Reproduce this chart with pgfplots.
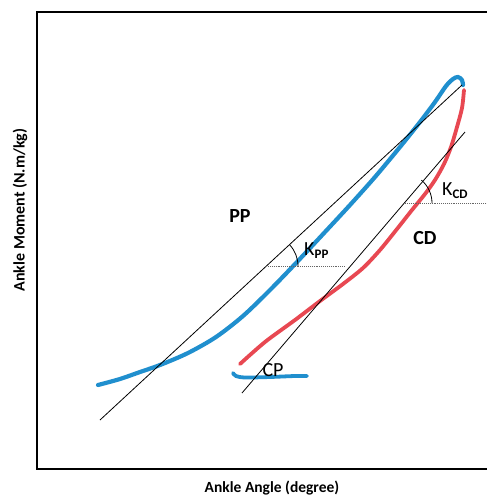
\documentclass[border=0pt]{standalone}
\usepackage{pgfplots}
\pgfplotsset{compat=1.18}
\usepackage{fontspec}
\setmainfont{Carlito}
\definecolor{ppblue}{RGB}{32,143,206}
\definecolor{cdred}{RGB}{232,72,82}
\begin{document}
\begin{tikzpicture}[x=1pt,y=1pt]
\path[use as bounding box] (0,0) rectangle (487,496);
\begin{axis}[scale only axis, width=452pt, height=457pt, at={(37pt,27pt)}, anchor=south west,
  xmin=37, xmax=489, ymin=12, ymax=469, y dir=reverse,
  axis line style={line width=2.6pt}, ticks=none, clip=false]
% PP loading (blue)
\addplot[ppblue, line width=4.2pt, smooth, line cap=round] coordinates {
(98,385) (120,379) (140,372) (160,365) (188,353) (216,337) (243,316) (270,290)
(297,262) (325,232) (350,205) (375,177) (400,147) (420,122) (435,102) (446,86)
(453,79) (458,77) (462,80) (463,85)};
% CD (red)
\addplot[cdred, line width=3.8pt, smooth, line cap=round] coordinates {
(464,90) (462,108) (457,127) (451,147) (444,164) (435,180) (425,194)
(412,210) (397,229) (380,250) (363,268) (343,284) (320,301) (295,320) (265,342) (240,364)};
% CP (blue)
\addplot[ppblue, line width=3.8pt, smooth, line cap=round] coordinates {
(233,373) (236,376) (245,377.5) (270,377) (295,376) (307,376)};
% tangent lines
\addplot[black, line width=0.8pt] coordinates {(100,420) (462,85)};
\addplot[black, line width=0.8pt] coordinates {(242,393) (465,132)};
% dotted horizontals
\addplot[gray!80!black, densely dotted, line width=0.9pt] coordinates {(268,266) (345,266)};
\addplot[gray!80!black, densely dotted, line width=0.9pt] coordinates {(405,203) (489,203)};
% angle arcs
\draw[black, line width=0.8pt] (axis cs:298,266) arc[start angle=0, end angle=43, radius=31pt];
\draw[black, line width=0.8pt] (axis cs:432,203) arc[start angle=0, end angle=49.5, radius=30pt];
% labels
\node[font=\fontsize{20}{22}\selectfont\bfseries] at (axis cs:240,216) {PP};
\node[font=\fontsize{20}{22}\selectfont\bfseries] at (axis cs:425,238) {CD};
\node[font=\fontsize{20}{22}\selectfont] at (axis cs:273,370) {CP};
\node[anchor=base west, inner sep=0pt, font=\fontsize{20}{22}\selectfont] at (axis cs:304,255)
  {K\raisebox{-0.35ex}{\fontsize{13}{14}\selectfont\bfseries PP}};
\node[anchor=base west, inner sep=0pt, font=\fontsize{20}{22}\selectfont] at (axis cs:442,195)
  {K\raisebox{-0.35ex}{\fontsize{13}{14}\selectfont\bfseries CD}};
\node[font=\fontsize{15.5}{17}\selectfont\bfseries] at (axis cs:272,488) {Ankle Angle (degree)};
\node[rotate=90, font=\fontsize{16}{18}\selectfont\bfseries] at (axis cs:20,210) {Ankle Moment (N.m/kg)};
\end{axis}
\end{tikzpicture}
\end{document}
